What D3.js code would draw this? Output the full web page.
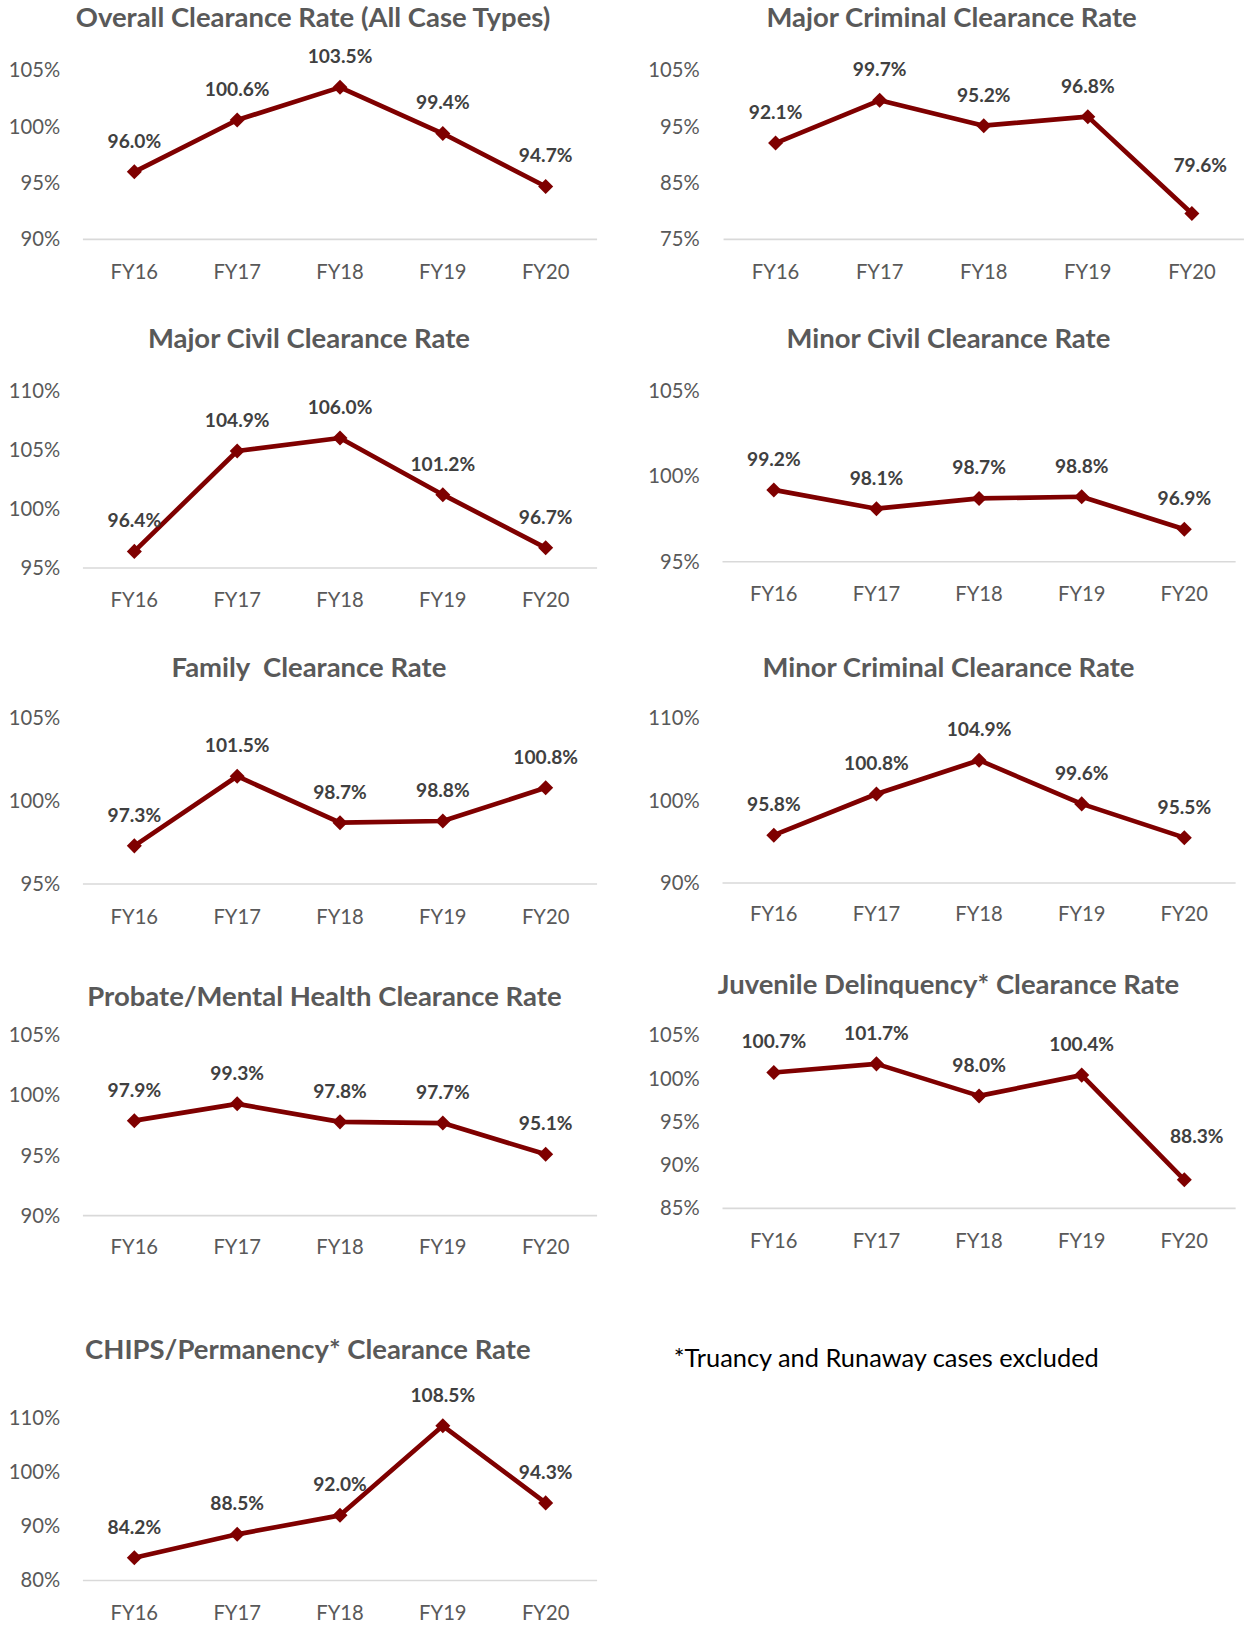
<!DOCTYPE html>
<html>
<head>
<meta charset="utf-8">
<script src="https://cdn.jsdelivr.net/npm/d3@7"></script>
<style>
  body { margin: 0; background: #fff; }
  svg text { font-family: Lato, "Open Sans", sans-serif; }
</style>
</head>
<body>
<svg id="drawing_region"></svg>
<script>
// categories
const years = ["FY16", "FY17", "FY18", "FY19", "FY20"];

// clearance rates (%) per case type
const overallRates       = [96.0, 100.6, 103.5, 99.4, 94.7];
const majorCriminalRates = [92.1, 99.7, 95.2, 96.8, 79.6];
const majorCivilRates    = [96.4, 104.9, 106.0, 101.2, 96.7];
const minorCivilRates    = [99.2, 98.1, 98.7, 98.8, 96.9];
const familyRates        = [97.3, 101.5, 98.7, 98.8, 100.8];
const minorCriminalRates = [95.8, 100.8, 104.9, 99.6, 95.5];
const probateRates       = [97.9, 99.3, 97.8, 97.7, 95.1];
const juvenileRates      = [100.7, 101.7, 98.0, 100.4, 88.3];
const chipsRates         = [84.2, 88.5, 92.0, 108.5, 94.3];

// y axis tick values
const overallTicks       = [90, 95, 100, 105];
const majorCriminalTicks = [75, 85, 95, 105];
const majorCivilTicks    = [95, 100, 105, 110];
const minorCivilTicks    = [95, 100, 105];
const familyTicks        = [95, 100, 105];
const minorCriminalTicks = [90, 100, 110];
const probateTicks       = [90, 95, 100, 105];
const juvenileTicks      = [85, 90, 95, 100, 105];
const chipsTicks         = [80, 90, 100, 110];

const footnote = "*Truancy and Runaway cases excluded";

// layout (in the 1202x1568 drawing space, scaled up by the viewBox)
// labelMove: hand-moved data labels, index -> [dx, dy] from the default spot
const panels = [
  { title: "Overall Clearance Rate (All Case Types)", values: overallRates, ticks: overallTicks,
    x0: 80, x1: 576, top: 68, bottom: 231, titleX: 302, titleY: 19, labelX: 58, yearY: 261 },
  { title: "Major Criminal Clearance Rate", values: majorCriminalRates, ticks: majorCriminalTicks,
    x0: 698, x1: 1200, top: 68, bottom: 231, titleX: 918, titleY: 19, labelX: 675, yearY: 261,
    labelMove: { 4: [8, -17] } },
  { title: "Major Civil Clearance Rate", values: majorCivilRates, ticks: majorCivilTicks,
    x0: 80, x1: 576, top: 377, bottom: 548, titleX: 298, titleY: 329, labelX: 58, yearY: 578 },
  { title: "Minor Civil Clearance Rate", values: minorCivilRates, ticks: minorCivilTicks,
    x0: 697, x1: 1192, top: 377, bottom: 542, titleX: 915, titleY: 329, labelX: 675, yearY: 572 },
  { title: "Family  Clearance Rate", values: familyRates, ticks: familyTicks,
    x0: 80, x1: 576, top: 693, bottom: 853, titleX: 298, titleY: 646, labelX: 58, yearY: 884 },
  { title: "Minor Criminal Clearance Rate", values: minorCriminalRates, ticks: minorCriminalTicks,
    x0: 697, x1: 1192, top: 693, bottom: 852, titleX: 915, titleY: 646, labelX: 675, yearY: 881 },
  { title: "Probate/Mental Health Clearance Rate", values: probateRates, ticks: probateTicks,
    x0: 80, x1: 576, top: 999, bottom: 1173, titleX: 313, titleY: 964, labelX: 58, yearY: 1202 },
  { title: "Juvenile Delinquency* Clearance Rate", values: juvenileRates, ticks: juvenileTicks,
    x0: 697, x1: 1192, top: 999, bottom: 1166, titleX: 915, titleY: 952, labelX: 675, yearY: 1196,
    labelMove: { 4: [12, -12] } },
  { title: "CHIPS/Permanency* Clearance Rate", values: chipsRates, ticks: chipsTicks,
    x0: 80, x1: 576, top: 1368, bottom: 1525, titleX: 297, titleY: 1305, labelX: 58, yearY: 1555 }
];

const svg = d3.select("#drawing_region")
  .attr("width", 1246)
  .attr("height", 1625)
  .attr("viewBox", "0 0 1202 1568")
  .attr("preserveAspectRatio", "none");

const lineColor = "#7f0000";
const diamond = d3.symbol().type(d3.symbolSquare).size(105);

panels.forEach(p => {
  const g = svg.append("g");
  const moves = p.labelMove || {};

  const x = d3.scaleBand()
    .domain(years)
    .range([p.x0, p.x1]);

  const y = d3.scaleLinear()
    .domain(d3.extent(p.ticks))
    .range([p.bottom, p.top]);

  // title
  g.append("text")
    .attr("x", p.titleX)
    .attr("y", p.titleY)
    .attr("text-anchor", "middle")
    .attr("dominant-baseline", "middle")
    .attr("fill", "#595959")
    .style("font-size", "26.5px")
    .style("font-weight", "bold")
    .style("white-space", "pre")
    .text(p.title);

  // y axis labels only
  const yAxis = g.append("g")
    .attr("transform", `translate(${p.labelX},0)`)
    .call(d3.axisLeft(y).tickValues(p.ticks).tickSize(0).tickPadding(0).tickFormat(d => d + "%"));
  yAxis.select(".domain").remove();
  yAxis.selectAll("text")
    .attr("fill", "#595959")
    .style("font-size", "19.5px")
    .style("font-family", "Lato, sans-serif");

  // baseline
  g.append("line")
    .attr("x1", p.x0).attr("x2", p.x1)
    .attr("y1", y(p.ticks[0])).attr("y2", y(p.ticks[0]))
    .attr("stroke", "#d9d9d9")
    .attr("stroke-width", 1.5);

  // x axis labels
  const xAxis = g.append("g")
    .attr("transform", `translate(0,${p.yearY})`)
    .call(d3.axisBottom(x).tickSize(0).tickPadding(0));
  xAxis.select(".domain").remove();
  xAxis.selectAll("text")
    .attr("dy", "0.4em")
    .attr("fill", "#595959")
    .style("font-size", "19.5px")
    .style("font-family", "Lato, sans-serif");

  const pts = years.map((yr, i) => ({ yr, v: p.values[i], i }));

  const line = d3.line()
    .x(d => x(d.yr) + x.bandwidth() / 2)
    .y(d => y(d.v));

  g.append("path")
    .datum(pts)
    .attr("d", line)
    .attr("fill", "none")
    .attr("stroke", lineColor)
    .attr("stroke-width", 4.5)
    .attr("stroke-linejoin", "round");

  g.selectAll(".marker")
    .data(pts)
    .enter()
    .append("path")
    .attr("class", "marker")
    .attr("d", diamond)
    .attr("transform", d => `translate(${x(d.yr) + x.bandwidth() / 2},${y(d.v)}) rotate(45)`)
    .attr("fill", lineColor);

  g.selectAll(".label")
    .data(pts)
    .enter()
    .append("text")
    .attr("class", "label")
    .attr("x", d => x(d.yr) + x.bandwidth() / 2 + (moves[d.i] ? moves[d.i][0] : 0))
    .attr("y", d => y(d.v) - 28 + (moves[d.i] ? moves[d.i][1] : 0))
    .attr("text-anchor", "middle")
    .attr("dominant-baseline", "middle")
    .attr("fill", "#404040")
    .style("font-size", "18.5px")
    .style("font-weight", "bold")
    .text(d => d.v.toFixed(1) + "%");
});

svg.append("text")
  .attr("x", 650)
  .attr("y", 1313)
  .attr("dominant-baseline", "middle")
  .attr("fill", "#000")
  .style("font-size", "24.5px")
  .text(footnote);
</script>
</body>
</html>
